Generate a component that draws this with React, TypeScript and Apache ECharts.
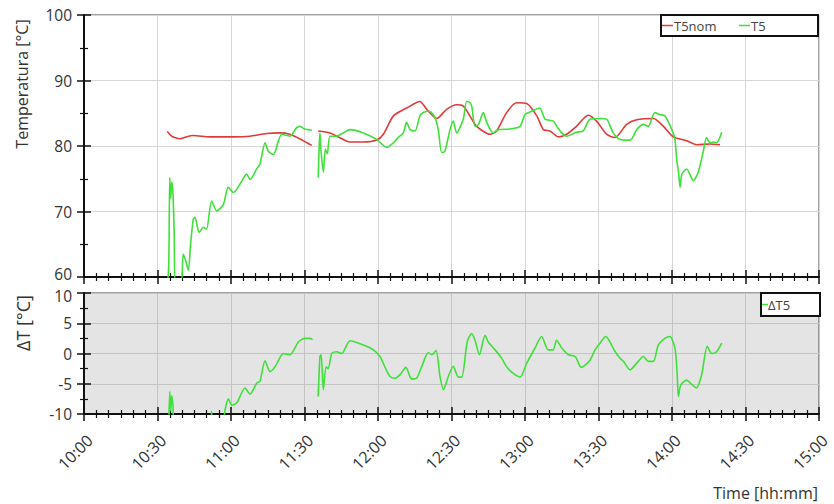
import React, { useEffect, useRef } from "react";
import * as echarts from "echarts";

// Time values are minutes after 10:00
const START_HOUR = 10;
const X_MIN = 0;
const X_MAX = 300;
const X_STEP = 30;

const T5NOM_TIME = [34, 35.5, 37, 39.2, 41, 44.6, 51.4, 61, 67.8, 74.6, 80, 84, 88, 91, 93, 94.3,
  95.6, 100.4, 105.8, 108.6, 114, 119.5, 122.2, 126.3, 131.7, 137.1, 139.9, 144, 148, 152.1, 154.8,
  157.5, 160.3, 165.7, 168.4, 172.5, 176.6, 180.7, 184.8, 187.5, 190.2, 193.6, 197, 201, 205.8, 209.2,
  213.3, 216.7, 221.5, 225.6, 232.4, 236.5, 240.5, 246, 250, 255.5, 259.6];
const T5NOM_VALUE = [82.2, 81.6, 81.3, 81.1, 81.3, 81.6, 81.4, 81.4, 81.5, 81.9, 82.0, 81.8, 81.1, 80.5, 80.1, null,
  82.3, 82.0, 81.0, 80.6, 80.6, 80.9, 81.8, 84.6, 85.8, 86.8, 85.6, 84.2, 85.6, 86.3, 86.1,
  84.6, 83.0, 81.8, 82.3, 85.1, 86.6, 86.5, 84.6, 82.5, 82.3, 81.4, 81.8, 83.0, 84.7, 83.8,
  81.8, 81.3, 83.3, 84.0, 84.2, 83.0, 81.4, 80.8, 80.2, 80.3, 80.2];

const T5_TIME = [34.0, 34.6, 35.0, 35.4, 35.8, 36.3, 36.8, 37.4, 39.5, 40.5, 41.5, 42.6, 43.5, 44.6, 45.3,
  47, 48.7, 50, 52.1, 54.2, 56.9, 58.9, 61, 63.7, 66.4, 67.8, 70.5, 71.8, 73.9, 75.2, 77.3, 80.7, 84,
  86.8, 88.2, 90, 91.6, 93, 94.3,
  95.6, 96.0, 96.3, 96.8, 97.7, 98.5, 99.3, 100.4, 103, 105.8, 108.6, 114, 119.5, 123.5, 126.3, 128,
  130.3, 131.7, 133.1, 135.1, 137.1, 138.5, 141, 143.3, 144.6, 146, 147.3, 149.4, 150.7, 152.1, 154.8,
  156.2, 157.6, 158.3, 159.6, 161, 163, 164.4, 167, 169.1, 173.9, 178, 180, 182.7, 186, 188.2, 191.6,
  193, 195, 197, 201, 203.8, 206.5, 210.6, 213.3, 216, 218.8, 222.9, 225.6, 228.3, 230.3, 233, 235,
  237.1, 239.9, 241.2, 241.9, 242.6, 243.3, 244, 246, 248.7, 250.7, 252.8, 254.1, 255.5, 256.8, 258.2, 260.3];
const T5_VALUE = [58, 62, 75.2, 72.0, 74.5, 72.9, 67, 58, 58, 63.5, 62.5, 61.0, 65, 68.8, 69.1,
  66.8, 67.6, 67.3, 71.6, 70.1, 71.1, 73.7, 72.9, 74.2, 75.7, 74.9, 76.5, 77.2, 80.5, 79.2, 78.7, 81.8, 81.5,
  82.8, 83.0, 82.6, 82.5, 82.4, null,
  75.2, 80, 82.0, 79, 76.0, 79.5, 78.8, 81.5, 81.5, 82.0, 82.5, 82.0, 81.0, 79.8, 80.5, 81.2,
  82.0, 83.6, 82.5, 82.3, 84.6, 85.1, 85.3, 84.3, 82.5, 79.0, 79.2, 82.5, 83.8, 82.0, 84.1,
  86.8, 86.6, 86.0, 83.0, 83.3, 85.1, 83.6, 82.0, 82.5, 82.6, 83.0, 84.8, 85.3, 85.8, 84.1, 83.8,
  83.0, 82.0, 81.5, 82.1, 82.3, 84.1, 84.2, 84.1, 82.0, 81.0, 80.9, 82.5, 83.3, 83.0, 85.1, 84.8,
  84.6, 82.5, 81.0, 78.0, 76.2, 73.7, 75.7, 76.5, 74.7, 76.0, 79.2, 81.3, 80.5, 80.6, 80.5, 82.1];

const DT_TIME = [34.6, 35.0, 35.4, 35.8, 36.3, 36.8, 51.5, 52.1, 52.7, 56.5, 57.5, 58.9, 60.3, 62.3, 65.7,
  67.8, 70.5, 71.8, 73.9, 75.9, 78, 81.4, 84.1, 87.5, 90.2, 92.2, 93.3, 94.3,
  95.6, 96.3, 96.8, 97.7, 98.8, 99.7, 101.1, 103.1, 105.2, 108.6, 114, 118.1, 120.8, 122.8, 124.9, 126.9,
  129, 131.4, 133.7, 135.7, 137.8, 140.5, 142, 143.7, 145.3, 146.7, 148.7, 150.7, 152.8, 154.2, 156.4,
  158.2, 159.6, 161.4, 163.7, 165, 167.8, 170.5, 172.5, 175.2, 178, 180.7, 184.1, 186.8, 189.5, 191.5,
  192.9, 195, 197.7, 200.5, 203, 206.5, 208.6, 210.6, 213, 214.7, 216.5, 218.8, 220.2, 222.9, 225.6,
  228.3, 230.3, 232.4, 234.4, 237.1, 239.1, 241.2, 242.1, 242.6, 243.6, 246, 248, 250, 252.1, 254.4,
  256.2, 258.2, 260.3];
const DT_VALUE = [-12, -6.3, -9.5, -7.0, -8.5, -12, -12, -9.6, -12, -12, -9.5, -7.5, -8.5, -8.2, -5.7,
  -6.7, -4.9, -4.6, -1.2, -3.0, -2.2, 0.0, -0.2, 1.9, 2.5, 2.5, 2.3, null,
  -7.1, -0.5, -0.2, -6.0, -2.2, -2.5, 0.0, 0.3, 0.0, 2.1, 1.4, 0.6, -0.5, -2.2, -3.8, -4.1,
  -3.5, -2.3, -4.2, -4.1, -2.2, 0.1, -0.2, 0.5, -3.8, -6.0, -3.8, -2.1, -3.9, -3.9, 1.9,
  3.3, 2.2, -0.2, 3.0, 1.9, 0.6, -0.8, -2.2, -3.3, -3.9, -1.6, 0.9, 2.8, 0.6, 0.6,
  2.2, 0.9, -0.2, -0.5, -2.3, -1.1, 0.6, 1.7, 2.8, 1.9, 0.5, -0.8, -1.3, -2.7, -1.6,
  -0.5, -1.3, -1.3, 1.4, 2.5, 2.8, 0.9, -3.3, -7.1, -5.2, -4.4, -5.1, -5.7, -3.5, 1.2,
  0.0, 0.3, 1.7];

const SERIES_NAMES = ["T5nom", "T5", "ΔT5"];
const COLORS = ["#e03a3a", "#3fe03a"];
const FONT = "'Open Sans', 'Noto Sans', sans-serif";

const pair = (ts: number[], vs: (number | null)[]) =>
  ts.map((t, i) => [t, vs[i] === null ? "-" : vs[i]]);

const fmtTime = (v: number) => {
  const h = START_HOUR + Math.floor(v / 60);
  const m = Math.round(v % 60);
  return `${h}:${m < 10 ? "0" : ""}${m}`;
};

const AXIS_COLOR = "#111";
const LABEL_SIZE = 15.5;

function xAxis(gridIndex: number, labels: boolean, inside: boolean, split: string) {
  return {
    type: "value",
    gridIndex,
    min: X_MIN,
    max: X_MAX,
    interval: X_STEP,
    position: "bottom",
    axisLine: { show: !inside, onZero: false, lineStyle: { color: AXIS_COLOR, width: 2 } },
    axisTick: { show: true, inside, length: 7, lineStyle: { color: AXIS_COLOR, width: 1.5 } },
    minorTick: { show: true, splitNumber: 6, length: 4, lineStyle: { color: AXIS_COLOR, width: 1.2 } },
    axisLabel: {
      show: labels && !inside,
      rotate: 45,
      margin: 18,
      fontSize: 16,
      color: "#333",
      fontFamily: FONT,
      verticalAlign: "top",
      showMinLabel: true,
      showMaxLabel: true,
      formatter: (v: number) => fmtTime(v),
    },
    splitLine: { show: !inside, lineStyle: { color: split, width: 1 } },
    minorSplitLine: { show: false },
  };
}

// edge: value whose label gets nudged away from the neighbouring plot
function yAxis(gridIndex: number, min: number, max: number, step: number, inside: boolean, split: string, edge: number, up: boolean) {
  const rs = { fontSize: LABEL_SIZE, color: "#333", fontFamily: FONT };
  return {
    type: "value",
    gridIndex,
    min,
    max,
    interval: step,
    position: "left",
    axisLine: { show: !inside, onZero: false, lineStyle: { color: AXIS_COLOR, width: 2 } },
    axisTick: { show: true, inside, length: 7, lineStyle: { color: AXIS_COLOR, width: 1.5 } },
    minorTick: { show: true, splitNumber: 2, length: 4, lineStyle: { color: AXIS_COLOR, width: 1.2 } },
    axisLabel: {
      show: !inside,
      margin: 12,
      fontSize: LABEL_SIZE,
      color: "#333",
      fontFamily: FONT,
      formatter: (v: number) => (v === edge ? `{e|${v}}` : `${v}`),
      rich: {
        e: { ...rs, padding: up ? [0, 0, 6, 0] : [6, 0, 0, 0] },
      },
    },
    splitLine: { show: !inside, lineStyle: { color: split, width: 1 } },
    minorSplitLine: { show: false },
  };
}

export default function App() {
  const ref = useRef<HTMLDivElement>(null);
  useEffect(() => {
    if (!ref.current) return;
    const chart = echarts.init(ref.current, null, { renderer: "svg" });
    const lineSeries = (name: string, data: any[], color: string, xi: number, yi: number) => ({
      name,
      type: "line",
      xAxisIndex: xi,
      yAxisIndex: yi,
      data,
      showSymbol: false,
      symbol: "none",
      smooth: 0.25,
      connectNulls: false,
      clip: true,
      lineStyle: { color, width: 1.6 },
      itemStyle: { color },
    });
    chart.setOption({
      animation: false,
      backgroundColor: "#ffffff",
      textStyle: { fontFamily: FONT },
      grid: [
        { left: 84, right: 15, top: 15, height: 262, show: true, backgroundColor: "#ffffff", borderColor: "#444", borderWidth: 1, containLabel: false },
        { left: 84, right: 15, top: 293, height: 121, show: true, backgroundColor: "#e4e4e4", borderColor: "#444", borderWidth: 1, containLabel: false },
      ],
      xAxis: [
        xAxis(0, false, false, "#d6d6d6"),
        xAxis(0, false, true, "#d6d6d6"),
        xAxis(1, true, false, "#c4c4c4"),
        xAxis(1, false, true, "#c4c4c4"),
      ],
      yAxis: [
        yAxis(0, 60, 100, 10, false, "#d6d6d6", 60, true),
        yAxis(0, 60, 100, 10, true, "#d6d6d6", 60, true),
        yAxis(1, -10, 10, 5, false, "#c4c4c4", 10, false),
        yAxis(1, -10, 10, 5, true, "#c4c4c4", 10, false),
      ],
      series: [
        lineSeries(SERIES_NAMES[0], pair(T5NOM_TIME, T5NOM_VALUE), COLORS[0], 0, 0),
        lineSeries(SERIES_NAMES[1], pair(T5_TIME, T5_VALUE), COLORS[1], 0, 0),
        lineSeries(SERIES_NAMES[2], pair(DT_TIME, DT_VALUE), COLORS[1], 2, 2),
      ],
      graphic: [
        {
          type: "text", x: 22, y: 84, rotation: Math.PI / 2,
          style: { text: "Temperatura [°C]", fontSize: 16, fontFamily: FONT, fill: "#333", textAlign: "center", textVerticalAlign: "middle" },
        },
        {
          type: "text", x: 23, y: 323, rotation: Math.PI / 2,
          style: { text: "ΔT [°C]", fontSize: 18, fontFamily: FONT, fill: "#333", textAlign: "center", textVerticalAlign: "middle" },
        },
        {
          type: "text", x: 818, y: 493,
          style: { text: "Time [hh:mm]", fontSize: 16, fontFamily: FONT, fill: "#333", textAlign: "right", textVerticalAlign: "middle" },
        },
        // top legend
        { type: "rect", z: 100, shape: { x: 661, y: 15, width: 157, height: 21 }, style: { fill: "#fff", stroke: "#111", lineWidth: 2 } },
        { type: "line", z: 101, shape: { x1: 662, y1: 25.5, x2: 673, y2: 25.5 }, style: { stroke: COLORS[0], lineWidth: 1.5 } },
        { type: "text", z: 101, x: 674, y: 25.5, style: { text: SERIES_NAMES[0], fontSize: 13, fontFamily: FONT, fill: "#444", textVerticalAlign: "middle" } },
        { type: "line", z: 101, shape: { x1: 739, y1: 25.5, x2: 750, y2: 25.5 }, style: { stroke: COLORS[1], lineWidth: 1.5 } },
        { type: "text", z: 101, x: 751, y: 25.5, style: { text: SERIES_NAMES[1], fontSize: 13, fontFamily: FONT, fill: "#444", textVerticalAlign: "middle" } },
        // bottom legend
        { type: "rect", z: 100, shape: { x: 761, y: 293, width: 59, height: 23 }, style: { fill: "#fff", stroke: "#111", lineWidth: 2 } },
        { type: "line", z: 101, shape: { x1: 762, y1: 304.5, x2: 768, y2: 304.5 }, style: { stroke: COLORS[1], lineWidth: 1.5 } },
        { type: "text", z: 101, x: 768, y: 304.5, style: { text: SERIES_NAMES[2], fontSize: 13, fontFamily: FONT, fill: "#444", textVerticalAlign: "middle" } },
      ],
    });
    return () => chart.dispose();
  }, []);
  return (
    <div
      ref={ref}
      style={{ position: "fixed", left: 0, top: 0, width: 834, height: 504 }}
    />
  );
}
